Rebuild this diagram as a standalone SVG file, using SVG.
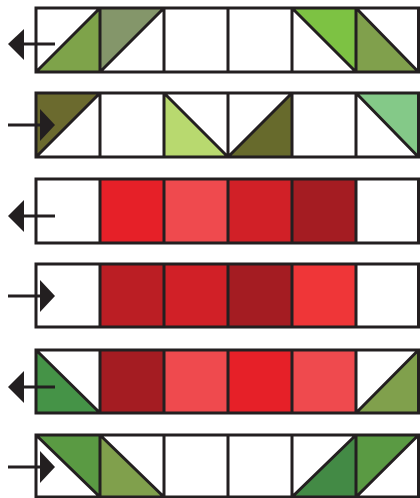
<svg xmlns="http://www.w3.org/2000/svg" width="420" height="498" viewBox="0 0 420 498">
<style>
.g{stroke:none}
.ln{fill:none;stroke:#231f20;stroke-width:3;stroke-linejoin:miter}
.arr{stroke:#231f20;stroke-width:3;fill:none}
.ah{fill:#231f20;stroke:none}
</style>
<rect width="420" height="498" fill="#ffffff"/>
<g id="row1">
<polygon class="g" points="36,72 100,8 100,72" fill="#7ea34a"/>
<polygon class="g" points="100,8 164,8 100,72" fill="#84966a"/>
<polygon class="g" points="292,8 356,8 356,72" fill="#7dc243"/>
<polygon class="g" points="356,8 418.5,72 356,72" fill="#80a04c"/>
<path class="ln" d="M36,8H418.5V72H36Z M100,8V72 M164,8V72 M228,8V72 M292,8V72 M356,8V72 M36,72L100,8 M100,72L164,8 M292,8L356,72 M356,8L418.5,72"/>
</g>
<g id="row2">
<polygon class="g" points="36,93 100,93 36,157" fill="#6b6a2e"/>
<polygon class="g" points="164,93 228,157 164,157" fill="#b8d96f"/>
<polygon class="g" points="228,157 292,93 292,157" fill="#676a2c"/>
<polygon class="g" points="356,93 418.5,93 418.5,157" fill="#84c988"/>
<path class="ln" d="M36,93H418.5V157H36Z M100,93V157 M164,93V157 M228,93V157 M292,93V157 M356,93V157 M36,157L100,93 M164,93L228,157 M228,157L292,93 M356,93L418.5,157"/>
</g>
<g id="row3">
<rect class="g" x="100" y="179" width="64" height="64" fill="#e62028"/>
<rect class="g" x="164" y="179" width="64" height="64" fill="#ef4a4e"/>
<rect class="g" x="228" y="179" width="64" height="64" fill="#d12027"/>
<rect class="g" x="292" y="179" width="64" height="64" fill="#a41c22"/>
<path class="ln" d="M36,179H418.5V243H36Z M100,179V243 M164,179V243 M228,179V243 M292,179V243 M356,179V243"/>
</g>
<g id="row4">
<rect class="g" x="100" y="264" width="64" height="63" fill="#bb1e24"/>
<rect class="g" x="164" y="264" width="64" height="63" fill="#d12027"/>
<rect class="g" x="228" y="264" width="64" height="63" fill="#a41c22"/>
<rect class="g" x="292" y="264" width="64" height="63" fill="#ef3638"/>
<path class="ln" d="M36,264H418.5V327H36Z M100,264V327 M164,264V327 M228,264V327 M292,264V327 M356,264V327"/>
</g>
<g id="row5">
<polygon class="g" points="36,350 100,413 36,413" fill="#459347"/>
<rect class="g" x="100" y="350" width="64" height="63" fill="#a41c22"/>
<rect class="g" x="164" y="350" width="64" height="63" fill="#ef4a4e"/>
<rect class="g" x="228" y="350" width="64" height="63" fill="#e62028"/>
<rect class="g" x="292" y="350" width="64" height="63" fill="#ef4a4e"/>
<polygon class="g" points="356,413 418.5,350 418.5,413" fill="#80a04c"/>
<path class="ln" d="M36,350H418.5V413H36Z M100,350V413 M164,350V413 M228,350V413 M292,350V413 M356,350V413 M36,350L100,413 M356,413L418.5,350"/>
</g>
<g id="row6">
<polygon class="g" points="36,435 100,435 100,497" fill="#5a9a43"/>
<polygon class="g" points="100,435 164,497 100,497" fill="#80a04c"/>
<polygon class="g" points="292,497 356,435 356,497" fill="#438a45"/>
<polygon class="g" points="356,435 418.5,435 356,497" fill="#5a9a43"/>
<path class="ln" d="M36,435H418.5V497H36Z M100,435V497 M164,435V497 M228,435V497 M292,435V497 M356,435V497 M36,435L100,497 M100,435L164,497 M292,497L356,435 M356,497L418.5,435"/>
</g>
<g id="connectors">
<line class="arr" x1="24" y1="44" x2="55" y2="44"/>
<polygon class="ah" points="8,44 24,29 24,60"/>
<line class="arr" x1="8" y1="125" x2="40" y2="125"/>
<polygon class="ah" points="55,125 40,109 40,141"/>
<line class="arr" x1="24" y1="216" x2="55" y2="216"/>
<polygon class="ah" points="8,216 24,200 24,232"/>
<line class="arr" x1="8" y1="296" x2="40" y2="296"/>
<polygon class="ah" points="55,296 40,280 40,312"/>
<line class="arr" x1="24" y1="387" x2="55" y2="387"/>
<polygon class="ah" points="8,387 24,371 24,403"/>
<line class="arr" x1="8" y1="467" x2="40" y2="467"/>
<polygon class="ah" points="55,467 40,451 40,483"/>
</g>
</svg>
